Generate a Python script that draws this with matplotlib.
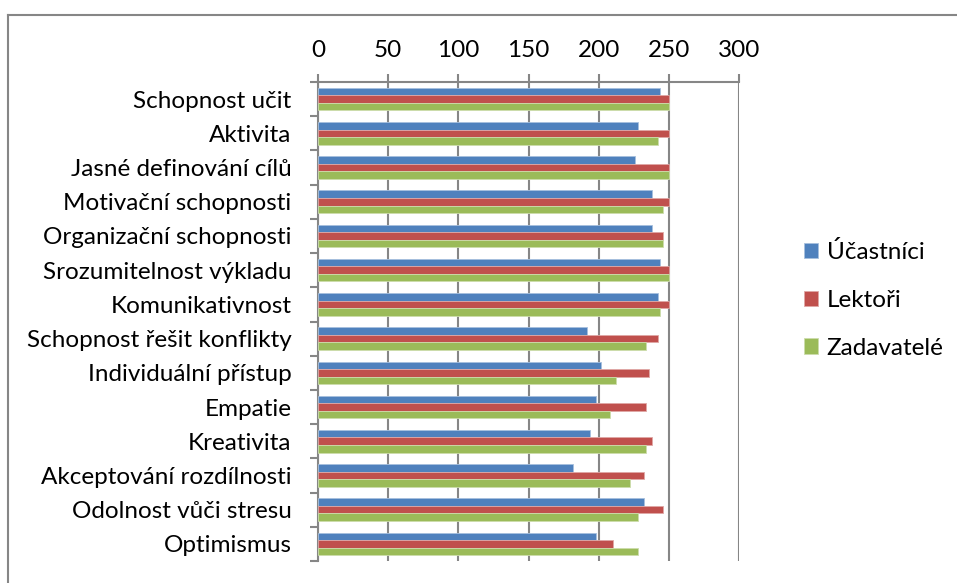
import numpy as np
import matplotlib
matplotlib.use("Agg")
import matplotlib.pyplot as plt
from matplotlib.lines import Line2D
from matplotlib.patches import Patch

categories = [
    "Schopnost učit", "Aktivita", "Jasné definování cílů", "Motivační schopnosti",
    "Organizační schopnosti", "Srozumitelnost výkladu", "Komunikativnost",
    "Schopnost řešit konflikty", "Individuální přístup", "Empatie", "Kreativita",
    "Akceptování rozdílnosti", "Odolnost vůči stresu", "Optimismus",
]
ucastnici = [244, 228, 226, 238, 238, 244, 242, 192, 202, 198, 194, 182, 232, 198]
lektori = [250, 250, 250, 250, 246, 250, 250, 242, 236, 234, 238, 232, 246, 210]
zadavatele = [250, 242, 250, 246, 246, 250, 244, 234, 212, 208, 234, 222, 228, 228]
series_names = ["Účastníci", "Lektoři", "Zadavatelé"]
x_ticks = [0, 50, 100, 150, 200, 250, 300]

colors = ["#4F81BD", "#C0504D", "#9BBB59"]
edges = ["#A7C0DE", "#DFA8A6", "#CDDDAC"]
grid_c = "#868686"
fs = 17.5

plt.rcParams["font.family"] = ["Lato", "DejaVu Sans"]

fig = plt.figure(figsize=(9.57, 5.83), dpi=100)
ax = fig.add_axes([318 / 957, 1 - 561 / 583, 421 / 957, (561 - 82) / 583])

n = len(categories)
pos = np.arange(n)
h = 0.22
for i, (vals, c, ec, name) in enumerate(zip([ucastnici, lektori, zadavatele], colors, edges, series_names)):
    ax.barh(pos + (i - 1) * h, vals, height=h, color=c, edgecolor=ec, linewidth=0.6,
            label=name, zorder=3)

ax.set_xlim(0, 300)
ax.set_ylim(n - 0.5, -0.5)
ax.xaxis.tick_top()
ax.set_xticks(x_ticks)
ax.set_xticklabels([str(t) for t in x_ticks])
ax.tick_params(axis="x", which="major", length=6, width=1.5, color=grid_c, pad=9,
               labelsize=fs, labelcolor="black")
ax.grid(axis="x", color=grid_c, linewidth=1.5, zorder=1)

ax.set_yticks(pos)
ax.set_yticklabels(categories)
ax.set_yticks(np.arange(-0.5, n, 1), minor=True)
ax.tick_params(axis="y", which="major", length=0, pad=19, labelsize=fs)
ax.tick_params(axis="y", which="minor", length=6, width=1.5, color=grid_c)

for s in ["right", "bottom"]:
    ax.spines[s].set_visible(False)
for s in ["left", "top"]:
    ax.spines[s].set_color(grid_c)
    ax.spines[s].set_linewidth(1.5)

handles = [Patch(facecolor=c, edgecolor=ec, linewidth=0.6) for c, ec in zip(colors, edges)]
fig.legend(handles, series_names, loc="center left",
           bbox_to_anchor=(794 / 957, 1 - 300 / 583), frameon=False, fontsize=fs,
           handlelength=0.6, handleheight=0.6, handletextpad=0.35, labelspacing=1.1,
           borderaxespad=0)

# outer chart frame (left and top edges)
fig.add_artist(Line2D([8 / 957, 8 / 957], [0, 1 - 15 / 583], transform=fig.transFigure,
                      color=grid_c, linewidth=1.5))
fig.add_artist(Line2D([8 / 957, 1], [1 - 15 / 583, 1 - 15 / 583], transform=fig.transFigure,
                      color=grid_c, linewidth=1.5))

fig.savefig("out.png", dpi=100)
